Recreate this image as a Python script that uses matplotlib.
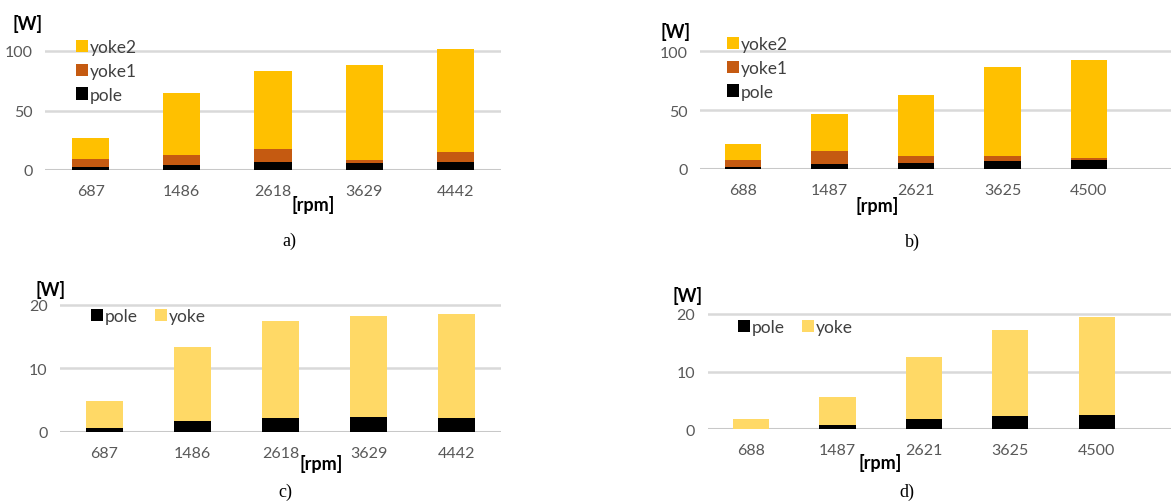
import matplotlib
matplotlib.use("Agg")
import matplotlib.pyplot as plt
from matplotlib.patches import Patch

plt.rcParams["font.family"] = ["Lato", "DejaVu Sans"]

# ---- data -------------------------------------------------------------
speeds_a = ["687", "1486", "2618", "3629", "4442"]
pole_a = [2.5, 4.5, 6.5, 5.5, 7.0]
yoke1_a = [6.5, 8.5, 11.0, 2.5, 8.0]
yoke2_a = [18.0, 52.0, 66.0, 80.5, 86.5]

speeds_b = ["688", "1487", "2621", "3625", "4500"]
pole_b = [2.0, 4.0, 5.5, 6.5, 7.5]
yoke1_b = [5.5, 11.5, 5.5, 4.5, 2.0]
yoke2_b = [14.0, 31.0, 52.0, 76.0, 83.5]

speeds_c = ["687", "1486", "2618", "3629", "4442"]
pole_c = [0.6, 1.7, 2.2, 2.35, 2.15]
yoke_c = [4.3, 11.6, 15.2, 15.85, 16.35]

speeds_d = ["688", "1487", "2621", "3625", "4500"]
pole_d = [0.05, 0.8, 1.7, 2.3, 2.4]
yoke_d = [1.8, 4.85, 10.8, 14.8, 17.1]

# ---- style ------------------------------------------------------------
C_YOKE2 = "#FFC000"
C_YOKE1 = "#C55A11"
C_POLE = "#000000"
C_YOKE = "#FFD966"
GRID = "#D9D9D9"
TXT = "#595959"

W, H = 1171, 502
fig = plt.figure(figsize=(W / 100, H / 100), dpi=100)


def make_axes(x0, x1, y_zero, y_tick, tick_val, ymax):
    """Axes placed in pixel coordinates: y_zero / y_tick are the pixel rows
    of value 0 and of value tick_val."""
    ppu = (y_zero - y_tick) / tick_val
    y_top = y_zero - ymax * ppu
    ax = fig.add_axes([x0 / W, 1 - y_zero / H, (x1 - x0) / W, (y_zero - y_top) / H])
    ax.set_ylim(0, ymax)
    for s in ax.spines.values():
        s.set_visible(False)
    ax.tick_params(length=0, labelsize=11.5, labelcolor=TXT)
    ax.tick_params(axis="x", pad=10)
    ax.tick_params(axis="y", pad=9)
    ax.set_axisbelow(True)
    return ax


def finish(ax, labels, ticks, xmax):
    ax.set_xticks(range(len(labels)))
    ax.set_xticklabels(labels)
    ax.set_xlim(-0.5, xmax)
    ax.set_yticks(ticks)
    ax.yaxis.grid(True, color=GRID, lw=1.8)
    ax.axhline(0, color="#C8C8C8", lw=2.2, zorder=1)


def stacked(ax, series, colors, width):
    x = list(range(len(series[0])))
    base = [0.0] * len(x)
    for vals, col in zip(series, colors):
        ax.bar(x, vals, width, bottom=base, color=col, zorder=3)
        base = [b + v for b, v in zip(base, vals)]


def legend(ax, items, x, y, ncol=1, spacing=0.45):
    handles = [Patch(facecolor=c, edgecolor="none") for _, c in items]
    leg = ax.legend(handles, [n for n, _ in items], loc="upper left",
                    bbox_to_anchor=(x / W, 1 - y / H), bbox_transform=fig.transFigure,
                    frameon=False, ncol=ncol, fontsize=12.5, handlelength=0.7,
                    handleheight=0.7, handletextpad=0.1, labelspacing=spacing,
                    columnspacing=1.0, borderaxespad=0, borderpad=0)
    for t in leg.get_texts():
        t.set_color("#404040")


def label(x, y, s, **kw):
    fig.text(x / W, 1 - y / H, s, ha="center", va="center", **kw)


# a)
ax = make_axes(45, 501, 171, 52, 100, 120)
stacked(ax, [pole_a, yoke1_a, yoke2_a], [C_POLE, C_YOKE1, C_YOKE2], 0.41)
finish(ax, speeds_a, [0, 50, 100], 4.5)
legend(ax, [("yoke2", C_YOKE2), ("yoke1", C_YOKE1), ("pole", C_POLE)], 76, 40)

# b)
ax = make_axes(700, 1171, 170, 52.3, 100, 120)
stacked(ax, [pole_b, yoke1_b, yoke2_b], [C_POLE, C_YOKE1, C_YOKE2], 0.42)
finish(ax, speeds_b, [0, 50, 100], 4.95)
legend(ax, [("yoke2", C_YOKE2), ("yoke1", C_YOKE1), ("pole", C_POLE)], 727, 37)

# c)
ax = make_axes(60, 501, 432.7, 305.7, 20, 21)
stacked(ax, [pole_c, yoke_c], [C_POLE, C_YOKE], 0.42)
finish(ax, speeds_c, [0, 10, 20], 4.5)
legend(ax, [("pole", C_POLE), ("yoke", C_YOKE)], 91, 309, ncol=2)

# d)
ax = make_axes(707.7, 1171, 430.3, 314.7, 20, 21)
stacked(ax, [pole_d, yoke_d], [C_POLE, C_YOKE], 0.42)
finish(ax, speeds_d, [0, 10, 20], 4.86)
legend(ax, [("pole", C_POLE), ("yoke", C_YOKE)], 738, 320, ncol=2)

# axis units and panel captions
bold = dict(fontsize=13, fontweight="bold", color="#000000")
label(28, 24, "[W]", **bold)
label(676, 32, "[W]", **bold)
label(51, 290, "[W]", **bold)
label(688, 296, "[W]", **bold)
label(313, 205, "[rpm]", **bold)
label(877, 206, "[rpm]", **bold)
label(321, 464, "[rpm]", **bold)
label(880, 463, "[rpm]", **bold)

serif = dict(fontsize=13, family="Liberation Serif", color="#000000")
label(289, 241, "a)", **serif)
label(912, 242, "b)", **serif)
label(285, 492, "c)", **serif)
label(907, 492, "d)", **serif)

fig.savefig("out.png", dpi=100, facecolor="white")
